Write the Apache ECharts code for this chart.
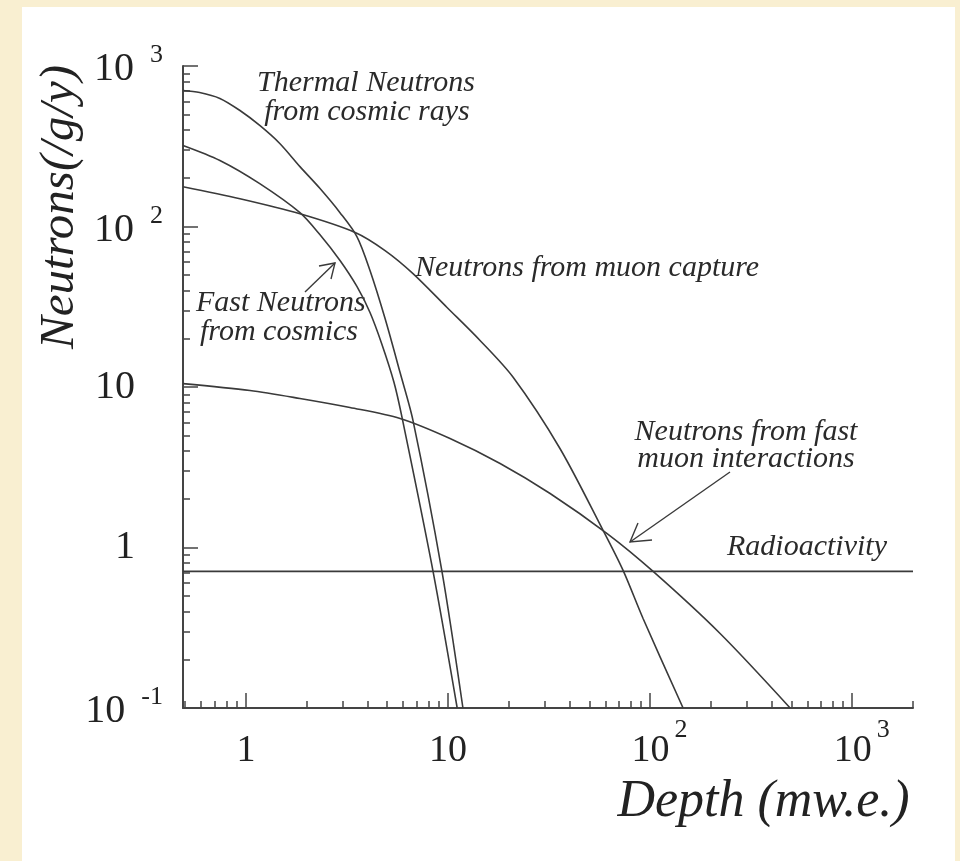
<!DOCTYPE html>
<html><head><meta charset="utf-8">
<script src="https://cdn.jsdelivr.net/npm/echarts@6/dist/echarts.min.js"></script>
<style>
html,body{margin:0;padding:0;width:960px;height:861px;background:#f9efd1;overflow:hidden}
#panel{position:absolute;left:22px;top:7px;width:933px;height:854px;background:#fff}
#chart{position:absolute;left:0;top:0;width:960px;height:861px}
</style></head><body>
<div id="panel"></div><div id="chart"></div>
<script>
// ---- data ----
const depthMin = 0.488, depthMax = 2000;
const fluxMin = 0.1, fluxMax = 1000;

const thermalDepth = [0.488, 0.59, 0.743, 0.934, 1.17, 1.47, 1.85, 2.32, 2.92, 3.54, 4.11, 4.88, 5.79, 6.71, 9.33, 11.85];
const thermalFlux  = [703, 684, 628, 528, 426, 329, 236, 173, 122, 86.6, 53.2, 26.7, 12.3, 6.18, 0.71, 0.1];

const fastDepth = [0.488, 0.743, 1.17, 1.85, 2.32, 2.92, 3.54, 4.11, 4.71, 5.40, 5.92, 8.43, 11.1];
const fastFlux  = [320, 258, 185, 122, 89.1, 61.4, 42.3, 29.1, 18.4, 10.7, 6.46, 0.71, 0.1];

const captureDepth = [0.488, 0.934, 1.85, 3.47, 4.88, 6.71, 9.89, 14.4, 21.0, 35.8, 58.5, 73.5, 92.3, 145.6];
const captureFlux  = [177, 149, 120, 91.8, 70.8, 50.9, 31.3, 19.5, 11.5, 4.14, 1.28, 0.72, 0.361, 0.1];

const fastMuonDepth = [0.488, 1.047, 1.85, 3.27, 5.79, 10.23, 18.1, 32.0, 61.3, 103.5, 222, 493];
const fastMuonFlux  = [10.5, 9.51, 8.48, 7.45, 6.37, 4.78, 3.34, 2.17, 1.22, 0.709, 0.291, 0.1];

const radioDepth = [0.488, 2000];
const radioFlux  = [0.71, 0.71];

const xMajorTicks = [1, 10, 100, 1000];
const yMajorTicks = [0.1, 1, 10, 100, 1000];

// minor tick positions (2..9 x 10^k)
function minorTicks(lo, hi) {
  const out = [];
  for (let e = -2; e <= 4; e++) {
    for (let m = 2; m <= 9; m++) {
      const v = +(m * Math.pow(10, e)).toPrecision(6);
      if (v >= lo && v <= hi) out.push(v);
    }
  }
  return out;
}
const xMinorTicks = minorTicks(depthMin, depthMax);
const yMinorTicks = minorTicks(fluxMin, fluxMax);

function zip(a, b) { return a.map((v, i) => [v, b[i]]); }

const serif = 'Liberation Serif';
const ink = '#222';
const curveStyle = { color: '#3a3a3a', width: 1.6 };

function expOf(v) { return Math.round(Math.log10(v)); }

const xLabelFmt = function (v) {
  const e = expOf(v);
  if (e === 0) return '{b|1}';
  if (e === 1) return '{b|10}';
  return '{be|10}{s|' + e + '}';
};
const yLabelFmt = function (v) {
  const e = expOf(v);
  if (e === 0) return '{c|1}';
  if (e === 1) return '{c|10}';
  return '{b|10}{s|' + e + '}';
};

const chart = echarts.init(document.getElementById('chart'), null, { renderer: 'canvas' });

function line(name, xs, ys, smooth) {
  return {
    name: name, type: 'line', data: zip(xs, ys), showSymbol: false, symbol: 'none',
    smooth: smooth, lineStyle: curveStyle, silent: true, clip: true,
    xAxisIndex: 0, yAxisIndex: 0
  };
}

const txt = (text, x, y, align) => ({
  type: 'text', x: x, y: y, silent: true,
  style: { text: text, fill: '#2a2a2a', fontFamily: serif, fontStyle: 'italic', fontSize: 30,
           align: align || 'left', verticalAlign: 'middle' }
});
const seg = (pts) => ({ type: 'polyline', silent: true, shape: { points: pts },
  style: { stroke: '#3a3a3a', lineWidth: 1.4, fill: null } });

const option = {
  animation: false,
  backgroundColor: 'transparent',
  grid: { left: 183, top: 66, width: 730, height: 642, containLabel: false },
  xAxis: [{
    type: 'log', logBase: 10, min: depthMin, max: depthMax, position: 'bottom',
    name: 'Depth (mw.e.)', nameLocation: 'middle', nameGap: 68, nameMoveOverlap: false,
    nameTextStyle: { fontFamily: serif, fontStyle: 'italic', fontSize: 52, color: ink,
                     lineHeight: 52, padding: [0, 0, 0, 431] },
    axisLine: { onZero: false, lineStyle: { color: '#444', width: 2 } },
    axisTick: { inside: true, length: 15, customValues: xMajorTicks, lineStyle: { color: '#444', width: 1.5 } },
    axisLabel: {
      customValues: xMajorTicks, margin: 9, formatter: xLabelFmt,
      rich: {
        b:  { fontFamily: serif, fontSize: 38, color: ink, padding: [15, 0, 0, 0], verticalAlign: 'bottom' },
        be: { fontFamily: serif, fontSize: 38, color: ink, padding: [15, 0, 0, 19], verticalAlign: 'bottom' },
        s:  { fontFamily: serif, fontSize: 26, color: ink, padding: [0, 0, 0, 5], verticalAlign: 'top' }
      }
    },
    splitLine: { show: false }, minorTick: { show: false }
  }, {
    type: 'log', logBase: 10, min: depthMin, max: depthMax, position: 'bottom', gridIndex: 0,
    axisLine: { show: false, onZero: false },
    axisTick: { inside: true, length: 7, customValues: xMinorTicks, lineStyle: { color: '#444', width: 1.5 } },
    axisLabel: { show: false }, splitLine: { show: false }
  }],
  yAxis: [{
    type: 'log', logBase: 10, min: fluxMin, max: fluxMax, position: 'left',
    name: 'Neutrons(/g/y)', nameLocation: 'middle', nameGap: 98, nameRotate: 90, nameMoveOverlap: false,
    nameTextStyle: { fontFamily: serif, fontStyle: 'italic', fontSize: 49, color: ink,
                     lineHeight: 49, padding: [0, 0, 0, 360] },
    axisLine: { onZero: false, lineStyle: { color: '#444', width: 2 } },
    axisTick: { inside: true, length: 15, customValues: yMajorTicks, lineStyle: { color: '#444', width: 1.5 } },
    axisLabel: {
      customValues: yMajorTicks, margin: 20, formatter: yLabelFmt,
      rich: {
        b: { fontFamily: serif, fontSize: 40, color: ink, padding: [7, 0, 0, 0], verticalAlign: 'bottom' },
        c: { fontFamily: serif, fontSize: 40, color: ink, padding: [0, 28, 0, 0] },
        s: { fontFamily: serif, fontSize: 26, color: ink, padding: [0, 0, 0, 16], verticalAlign: 'top' }
      }
    },
    splitLine: { show: false }
  }, {
    type: 'log', logBase: 10, min: fluxMin, max: fluxMax, position: 'left', gridIndex: 0,
    axisLine: { show: false, onZero: false },
    axisTick: { inside: true, length: 7, customValues: yMinorTicks, lineStyle: { color: '#444', width: 1.5 } },
    axisLabel: { show: false }, splitLine: { show: false }
  }],
  series: [
    line('Thermal Neutrons from cosmic rays', thermalDepth, thermalFlux, 0.3),
    line('Fast Neutrons from cosmics', fastDepth, fastFlux, 0.3),
    line('Neutrons from muon capture', captureDepth, captureFlux, 0.3),
    line('Neutrons from fast muon interactions', fastMuonDepth, fastMuonFlux, 0.3),
    line('Radioactivity', radioDepth, radioFlux, false)
  ],
  graphic: [
    txt('Thermal Neutrons', 366, 83, 'center'),
    txt('from cosmic rays', 367, 112, 'center'),
    txt('Neutrons from muon capture', 415, 268, 'left'),
    txt('Fast Neutrons', 196, 303, 'left'),
    txt('from cosmics', 200, 332, 'left'),
    txt('Neutrons from fast', 746, 432, 'center'),
    txt('muon interactions', 746, 459, 'center'),
    txt('Radioactivity', 807, 547, 'center'),
    seg([[305, 292], [335, 263]]),
    seg([[319, 266], [335, 263], [331, 279]]),
    seg([[730, 472], [630, 542]]),
    seg([[638, 523], [630, 542], [652, 540]])
  ]
};
chart.setOption(option);
</script>
</body></html>
